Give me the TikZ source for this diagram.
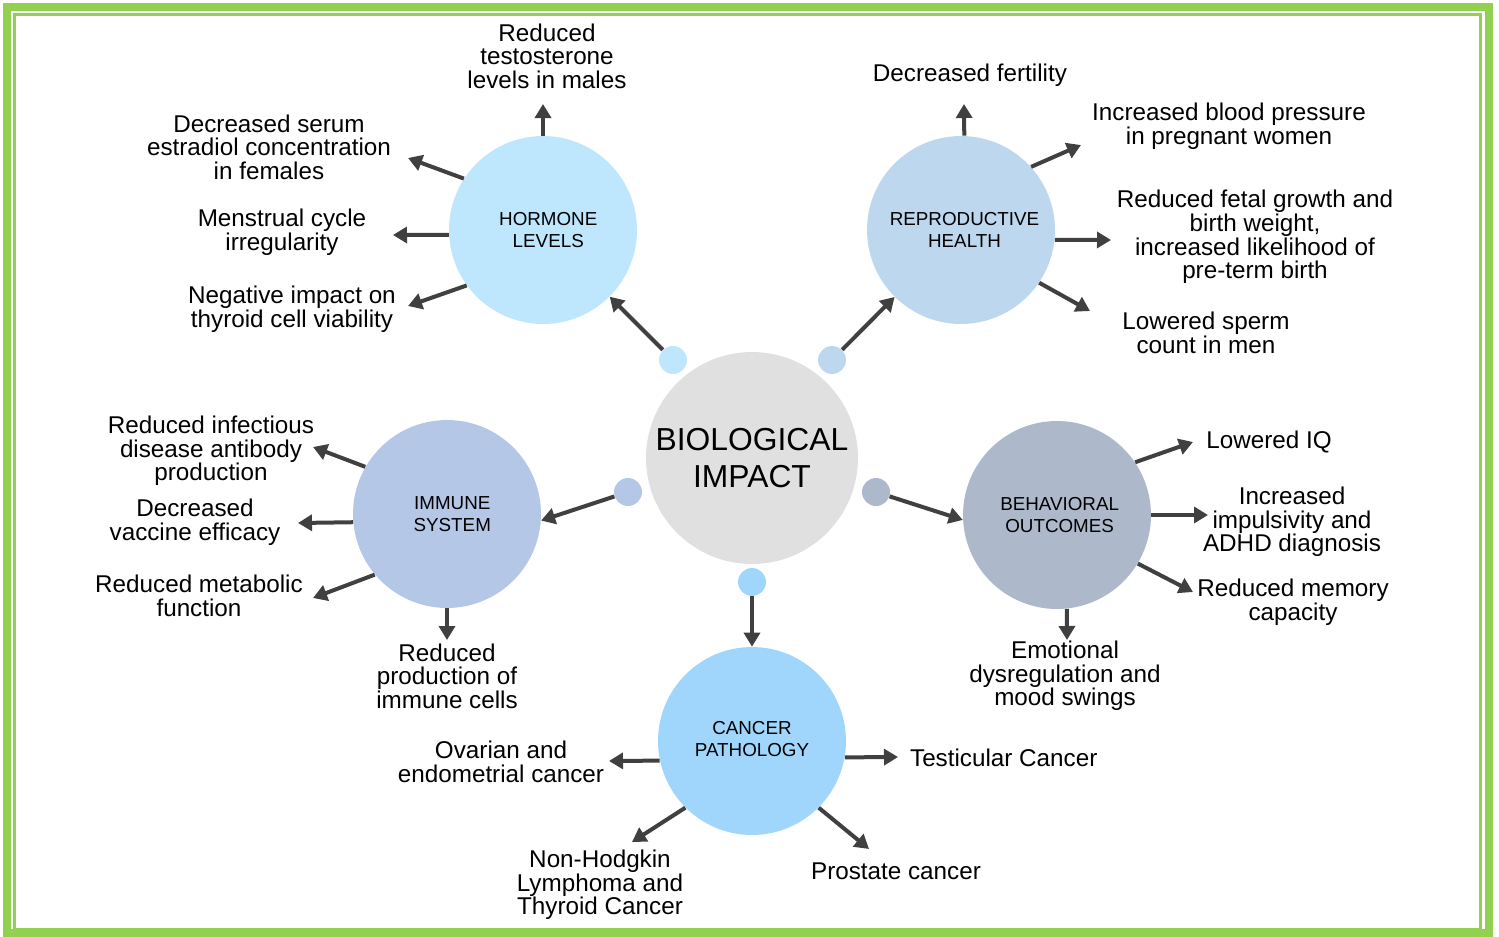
\documentclass[tikz,border=0pt]{standalone}
\usepackage{fontspec}
\setmainfont{Liberation Sans}
\usetikzlibrary{arrows.meta}
\definecolor{framegreen}{RGB}{146,208,80}
\definecolor{hormc}{RGB}{190,230,252}
\definecolor{reprc}{RGB}{189,215,238}
\definecolor{immc}{RGB}{180,199,231}
\definecolor{behc}{RGB}{173,185,202}
\definecolor{canc}{RGB}{160,214,252}
\definecolor{centc}{RGB}{224,224,224}
\definecolor{arrc}{RGB}{64,64,64}
\tikzset{
  bigcirc/.style={circle,draw=none,minimum size=3.76cm,inner sep=0pt,align=center,font=\fontsize{10.7}{12.5}\selectfont},
  dotc/.style={circle,draw=none,minimum size=0.56cm,inner sep=0pt},
  lab/.style={align=center,font=\fontsize{13.8}{13.4}\selectfont,inner sep=1pt},
  conn/.style={draw=arrc,line width=0.08cm,-{Triangle[length=0.28cm,width=0.32cm]}}
}
\begin{document}
\begin{tikzpicture}[x=0.02cm,y=-0.02cm]
\useasboundingbox (0,0) rectangle (1499,937);
\draw[framegreen,line width=0.16cm] (7,7) rectangle (1489,933);
\draw[framegreen,line width=0.06cm] (14.5,14.5) rectangle (1480,929);

% center
\node[circle,fill=centc,minimum size=4.24cm,inner sep=0pt,align=center,font=\fontsize{18.1}{21}\selectfont] (bio) at (752,458) {BIOLOGICAL\\IMPACT};

% main circles
\node[bigcirc,fill=hormc] (hl) at (543,230) {\hspace*{6pt}HORMONE\\\hspace*{6pt}LEVELS};
\node[bigcirc,fill=reprc] (rh) at (961,230) {\hspace*{4pt}REPRODUCTIVE\\\hspace*{4pt}HEALTH};
\node[bigcirc,fill=immc] (im) at (447,514) {\hspace*{6pt}IMMUNE\\\hspace*{6pt}SYSTEM};
\node[bigcirc,fill=behc] (bo) at (1057,515) {\hspace*{3pt}BEHAVIORAL\\\hspace*{3pt}OUTCOMES};
\node[bigcirc,fill=canc] (ca) at (752,741) {\raisebox{2pt}{CANCER}\\\raisebox{2pt}{PATHOLOGY}};

% dots
\node[dotc,fill=hormc] (hdot) at (673,360) {};
\node[dotc,fill=reprc] (rdot) at (832,360) {};
\node[dotc,fill=immc] (idot) at (628,492) {};
\node[dotc,fill=behc] (bdot) at (876,492) {};
\node[dotc,fill=canc] (cdot) at (752,582) {};

\draw[conn] (hdot) -- (hl);
\draw[conn] (rdot) -- (rh);
\draw[conn] (idot) -- (im.-4);
\draw[conn] (bdot) -- (bo.183);
\draw[conn] (cdot) -- (ca);

% labels
\node[lab] (l1) at (547,56) {Reduced\\testosterone\\levels in males};
\node[lab] (l2) at (269,147) {Decreased serum\\estradiol concentration\\in females};
\node[lab] (l3) at (282,232) {Menstrual cycle\\irregularity};
\node[lab] (l4) at (292,309) {Negative impact on\\thyroid cell viability};
\node[lab] (l5) at (970,75) {Decreased fertility};
\node[lab] (l6) at (1229,126) {Increased blood pressure\\in pregnant women};
\node[lab] (l7) at (1255,237) {Reduced fetal growth and\\birth weight,\\increased likelihood of\\pre-term birth};
\node[lab] (l8) at (1206,333) {Lowered sperm\\count in men};
\node[lab] (l9) at (211,451) {Reduced infectious\\disease antibody\\production};
\node[lab] (l10) at (195,522) {Decreased\\vaccine efficacy};
\node[lab] (l11) at (199,596) {Reduced metabolic\\function};
\node[lab] (l12) at (447,676) {Reduced\\production of\\immune cells};
\node[lab] (l13) at (1269,442) {Lowered IQ};
\node[lab] (l14) at (1292,522) {Increased\\impulsivity and\\ADHD diagnosis};
\node[lab] (l15) at (1293,602) {Reduced memory\\capacity};
\node[lab] (l16) at (1065,676) {Emotional\\dysregulation and\\mood swings};
\node[lab] (l17) at (501,762) {Ovarian and\\endometrial cancer};
\node[lab,anchor=west] (l18) at (908,758) {Testicular Cancer};
\node[lab] (l19) at (600,885) {Non-Hodgkin\\Lymphoma and\\Thyroid Cancer};
\node[lab] (l20) at (896,871) {Prostate cancer};

% arrow ends
\coordinate (e1) at (543,104);
\coordinate (e2) at (408,158);
\coordinate (e3) at (393,235);
\coordinate (e4) at (408,306);
\coordinate (e5) at (964,104);
\coordinate (e6) at (1081,145);
\coordinate (e7) at (1111,240);
\coordinate (e8) at (1090,311);
\coordinate (e9) at (313,447);
\coordinate (e10) at (298,523);
\coordinate (e11) at (313,598);
\coordinate (e12) at (447,640);
\coordinate (e13) at (1193,442);
\coordinate (e14) at (1208,515);
\coordinate (e15) at (1193,592);
\coordinate (e16) at (1067,640);
\coordinate (e17) at (609,761);
\coordinate (e18) at (898,757);
\coordinate (e19) at (632,842);
\coordinate (e20) at (869,849);

\draw[conn] (hl.90) -- (e1);
\draw[conn] (hl.147) -- (e2);
\draw[conn] (hl.183) -- (e3);
\draw[conn] (hl.216) -- (e4);
\draw[conn] (rh.88) -- (e5);
\draw[conn] (rh.42) -- (e6);
\draw[conn] (rh.-6) -- (e7);
\draw[conn] (rh.-34) -- (e8);
\draw[conn] (im.150) -- (e9);
\draw[conn] (im.185) -- (e10);
\draw[conn] (im.220) -- (e11);
\draw[conn] (im.270) -- (e12);
\draw[conn] (bo.34) -- (e13);
\draw[conn] (bo.0) -- (e14);
\draw[conn] (bo.-31) -- (e15);
\draw[conn] (bo.276) -- (e16);
\draw[conn] (ca.192) -- (e17);
\draw[conn] (ca.-10) -- (e18);
\draw[conn] (ca.225) -- (e19);
\draw[conn] (ca.-45) -- (e20);
\end{tikzpicture}
\end{document}
